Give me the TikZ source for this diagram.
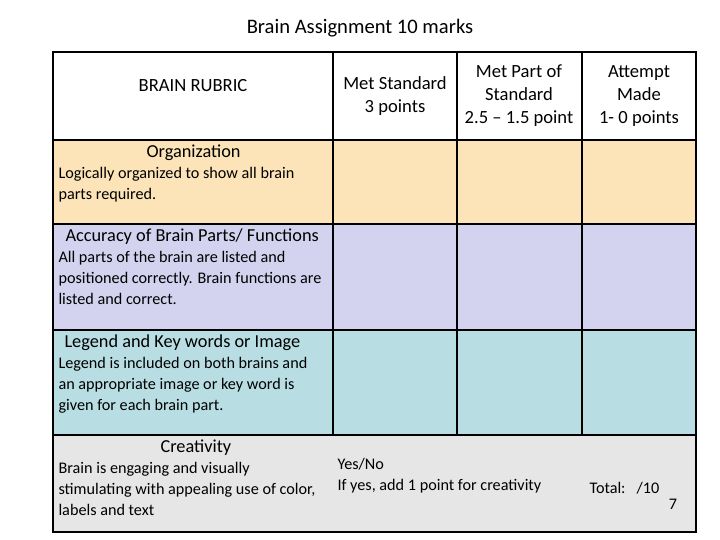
\documentclass[tikz,border=0pt]{standalone}
\usepackage{fontspec}
\setmainfont{Carlito}
\definecolor{orgfill}{HTML}{FCE4B8}
\definecolor{accfill}{HTML}{D3D3F0}
\definecolor{legfill}{HTML}{B8DEE3}
\definecolor{crefill}{HTML}{E6E6E6}
\tikzset{
  head/.style={align=center, font=\fontsize{18.6}{23}\selectfont},
  crit/.style={anchor=west, font=\fontsize{18.3}{20}\selectfont},
  desc/.style={anchor=north west, align=left, font=\fontsize{16.2}{21}\selectfont},
  grid/.style={line width=1.2pt, black}
}
\begin{document}
\begin{tikzpicture}[x=1pt,y=-1pt]
\useasboundingbox (0,0) rectangle (720,540);

% rows
\fill[white] (53,52) rectangle (696,140);
\fill[orgfill] (53,140) rectangle (696,224);
\fill[accfill] (53,224) rectangle (696,330);
\fill[legfill] (53,330) rectangle (696,435);
\fill[crefill] (53,435) rectangle (696,532);

% lines
\draw[grid] (53,52) rectangle (696,532);
\foreach \y in {140,224,330,435} \draw[grid] (53,\y) -- (696,\y);
\foreach \x in {333,457,582} \draw[grid] (\x,52) -- (\x,435);

% title and header
\node[head, font=\fontsize{20.6}{23}\selectfont] (title) at (360,28) {Brain Assignment 10 marks};
\node[head] (rubric) at (193,86) {BRAIN RUBRIC};
\node[head] (met) at (395,96) {Met Standard\\3 points};
\node[head] (part) at (519,96) {Met Part of\\Standard\\2.5 – 1.5 point};
\node[head] (attempt) at (639,96) {Attempt\\Made\\1- 0 points};

% Organization
\node[crit] (org) at (143,153) {Organization};
\node[desc] (orgtxt) at (55,164) {Logically organized to show all brain\\parts required.};

% Accuracy
\node[crit] (acc) at (62,237) {Accuracy of Brain Parts/ Functions};
\node[desc] (acctxt) at (55,248) {All parts of the brain are listed and\\positioned correctly. Brain functions are\\listed and correct.};

% Legend
\node[crit] (leg) at (61,343) {Legend and Key words or Image};
\node[desc] (legtxt) at (55,354) {Legend is included on both brains and\\an appropriate image or key word is\\given for each brain part.};

% Creativity
\node[crit] (cre) at (157,448) {Creativity};
\node[desc] (cretxt) at (55,459) {Brain is engaging and visually\\stimulating with appealing use of color,\\labels and text};
\node[desc] (yesno) at (334,455) {Yes/No\\If yes, add 1 point for creativity};
\node[anchor=west, font=\fontsize{16.2}{18}\selectfont] (total) at (586,488) {Total:\ \ \ /10};
\node[font=\fontsize{16.2}{18}\selectfont] (page) at (673,504) {7};
\end{tikzpicture}
\end{document}
